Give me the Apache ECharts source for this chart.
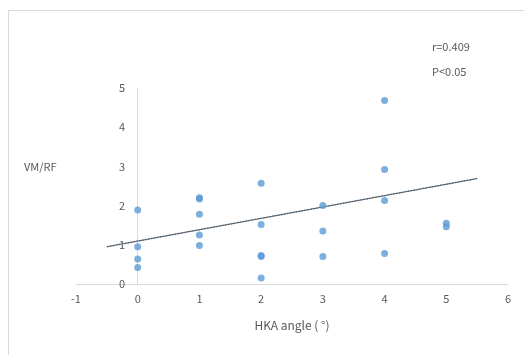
<!DOCTYPE html>
<html><head><meta charset="utf-8">
<script src="https://cdn.jsdelivr.net/npm/echarts@6/dist/echarts.min.js"></script>
<style>html,body{margin:0;padding:0;background:#fff}#c{width:524px;height:355px}</style>
</head><body><div id="c"></div>
<script>
const xValues = [0,0,0,0, 1,1,1,1,1, 2,2,2,2,2, 3,3,3, 4,4,4,4, 5,5];
const yValues = [1.89,0.95,0.64,0.42, 2.20,2.17,1.78,1.25,0.98, 2.57,1.52,0.73,0.70,0.15, 2.0,1.35,0.70, 4.68,2.92,2.13,0.78, 1.55,1.46];
const trendX = [-0.5, 5.5];
const trendY = [0.95, 2.69];
const xTicks = [-1,0,1,2,3,4,5,6];
const yTicks = [0,1,2,3,4,5];
const annotations = ['r=0.409', 'P<0.05'];

const font = '"Noto Sans CJK KR", "Open Sans", sans-serif';
const txt = '#595959';
const chart = echarts.init(document.getElementById('c'), null, {renderer:'canvas'});
chart.setOption({
  animation:false,
  backgroundColor:'#fff',
  grid:{left:76, right:16, top:88, bottom:71},
  graphic:[
    {type:'rect', shape:{x:8.5,y:10.5,width:600,height:400}, style:{fill:'none', stroke:'#d9d9d9', lineWidth:1}, z:-10},
    {type:'text', left:432, top:41, style:{text:annotations[0], fill:txt, font:'11px '+font}},
    {type:'text', left:432, top:66, style:{text:annotations[1], fill:txt, font:'11px '+font}},
    {type:'text', left:24, top:161, style:{text:'VM/RF', fill:txt, font:'11px '+font}}
  ],
  xAxis:{
    type:'value', min:xTicks[0], max:xTicks[xTicks.length-1], interval:1,
    name:'HKA angle ( °)', nameLocation:'middle', nameGap:35,
    nameTextStyle:{color:txt, fontSize:12, fontFamily:font},
    axisLine:{show:true, onZero:true, lineStyle:{color:'#d9d9d9', width:1}},
    axisTick:{show:false},
    splitLine:{show:false},
    axisLabel:{color:txt, fontSize:11, fontFamily:font, margin:9}
  },
  yAxis:{
    type:'value', min:yTicks[0], max:yTicks[yTicks.length-1], interval:1,
    axisLine:{show:true, onZero:true, lineStyle:{color:'#d9d9d9', width:1}},
    axisTick:{show:false},
    splitLine:{show:false},
    axisLabel:{color:txt, fontSize:11, fontFamily:font, margin:-49}
  },
  series:[
    {type:'line', data:trendX.map((x,i)=>[x,trendY[i]]), symbol:'none',
     lineStyle:{color:'#5b9bd5', width:1.5, type:'dotted'}, z:2, silent:true},
    {type:'line', data:trendX.map((x,i)=>[x,trendY[i]]), symbol:'none',
     lineStyle:{color:'#595959', width:1}, z:3, silent:true},
    {type:'scatter', data:xValues.map((x,i)=>[x,yValues[i]]), symbolSize:7,
     itemStyle:{color:'#5b9bd5'}, z:4}
  ]
});
</script></body></html>
